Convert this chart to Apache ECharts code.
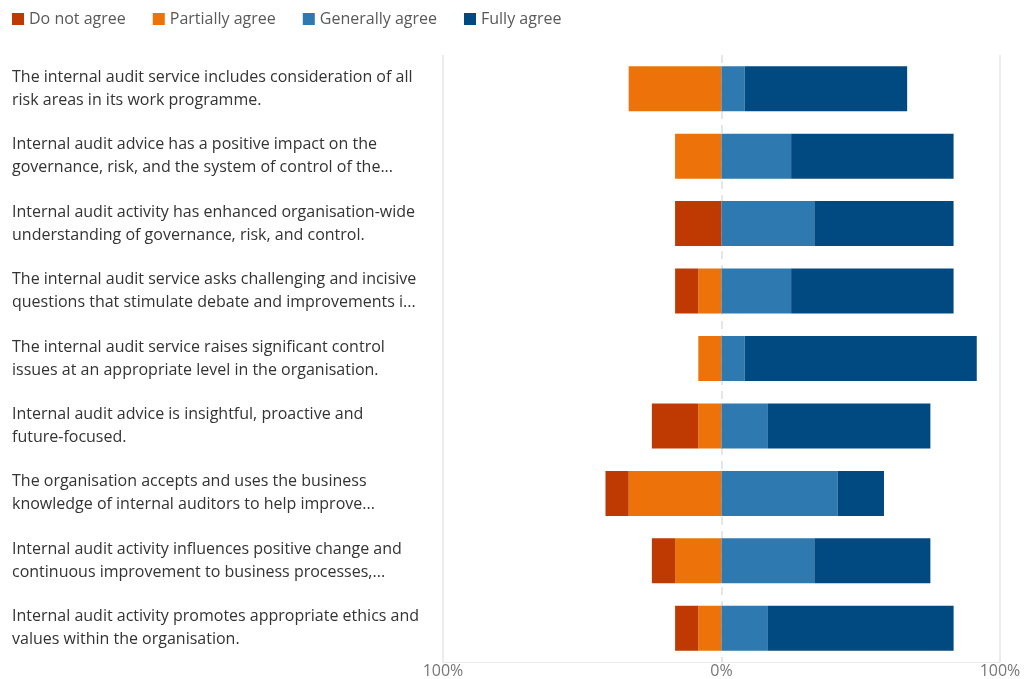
<!DOCTYPE html>
<html>
<head>
<meta charset="utf-8">
<script src="https://cdn.jsdelivr.net/npm/echarts@6/dist/echarts.min.js"></script>
<style>
html,body{margin:0;padding:0;background:#fff;}
#chart{width:1026px;height:679px;}
</style>
</head>
<body>
<div id="chart"></div>
<script>
const categories = [
  "The internal audit service includes consideration of all\nrisk areas in its work programme.",
  "Internal audit advice has a positive impact on the\ngovernance, risk, and the system of control of the...",
  "Internal audit activity has enhanced organisation-wide\nunderstanding of governance, risk, and control.",
  "The internal audit service asks challenging and incisive\nquestions that stimulate debate and improvements i...",
  "The internal audit service raises significant control\nissues at an appropriate level in the organisation.",
  "Internal audit advice is insightful, proactive and\nfuture-focused.",
  "The organisation accepts and uses the business\nknowledge of internal auditors to help improve...",
  "Internal audit activity influences positive change and\ncontinuous improvement to business processes,...",
  "Internal audit activity promotes appropriate ethics and\nvalues within the organisation."
];
const seriesNames = ["Do not agree", "Partially agree", "Generally agree", "Fully agree"];
const doNotAgree     = [0, 0, 16.67, 8.33, 0, 16.67, 8.33, 8.33, 8.33];
const partiallyAgree = [33.33, 16.67, 0, 8.33, 8.33, 8.33, 33.33, 16.67, 8.33];
const generallyAgree = [8.33, 25, 33.33, 25, 8.33, 16.67, 41.67, 33.33, 16.67];
const fullyAgree     = [58.33, 58.33, 50, 58.33, 83.33, 58.33, 16.67, 41.67, 66.67];
const axisMin = -100, axisMax = 100, axisInterval = 100;

const colors = {
  "Do not agree": "#BE3A02",
  "Partially agree": "#EC7209",
  "Generally agree": "#2E79B0",
  "Fully agree": "#014981"
};
const font = "'Open Sans', 'Noto Sans', sans-serif";

function bar(name, data, sign) {
  return {
    name: name,
    type: 'bar',
    stack: 'total',
    barWidth: 45,
    z: 3,
    data: data.map(v => sign * v),
    itemStyle: { color: colors[name], borderWidth: 0 },
    emphasis: { disabled: true }
  };
}

const series = [
  bar("Partially agree", partiallyAgree, -1),
  bar("Do not agree", doNotAgree, -1),
  bar("Generally agree", generallyAgree, 1),
  bar("Fully agree", fullyAgree, 1),
  {
    name: 'gridlines', type: 'line', data: [], z: 1, silent: true,
    markLine: {
      z: 1,
      silent: true, symbol: 'none', label: { show: false }, animation: false,
      data: [
        { xAxis: axisMin, lineStyle: { color: '#e6e6e6', width: 1.5, type: 'solid' } },
        { xAxis: axisMax, lineStyle: { color: '#e6e6e6', width: 1.5, type: 'solid' } },
        { xAxis: 0, lineStyle: { color: '#e6e6e6', width: 2, type: [8, 6] } }
      ]
    }
  }
];

const chart = echarts.init(document.getElementById('chart'));
chart.setOption({
  animation: false,
  textStyle: { fontFamily: font },
  legend: {
    data: seriesNames,
    left: 7, top: 6,
    itemWidth: 12, itemHeight: 12, itemGap: 27,
    icon: 'rect',
    textStyle: { fontSize: 16, color: '#595959', fontFamily: font }
  },
  grid: { left: 443, right: 26, top: 55, bottom: 16, containLabel: false },
  xAxis: {
    type: 'value', min: axisMin, max: axisMax, interval: axisInterval,
    axisLine: { show: true, lineStyle: { color: '#ececec' } },
    axisTick: { show: false },
    splitLine: { show: false },
    axisLabel: {
      formatter: v => Math.abs(v) + '%',
      fontSize: 16, color: '#777', margin: 1, fontFamily: font
    }
  },
  yAxis: {
    type: 'category', data: categories, inverse: true,
    axisLine: { show: false }, axisTick: { show: false },
    axisLabel: {
      align: 'left', margin: 431, fontSize: 16, lineHeight: 23,
      color: '#333333', fontFamily: font
    }
  },
  series: series
});
</script>
</body>
</html>
